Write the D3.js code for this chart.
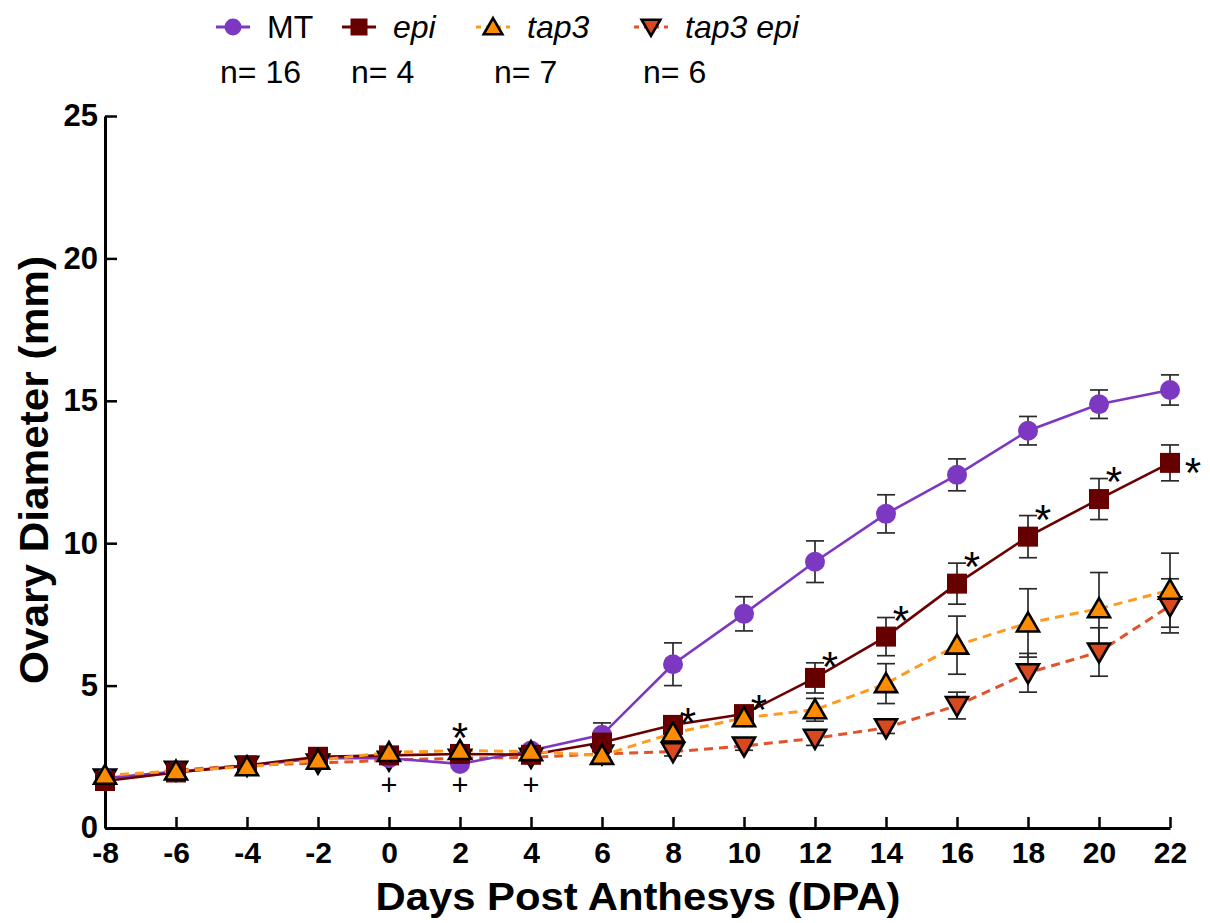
<!DOCTYPE html>
<html lang="en">
<head>
<meta charset="utf-8">
<title>Ovary Diameter</title>
<script src="https://d3js.org/d3.v7.min.js"></script>
<style>
    body { margin: 0; background: #fff; }
    svg { display: block; font-family: "Liberation Sans", Arial, sans-serif; }
    .axis path, .axis line { stroke: #000; }
    .axis path { stroke-width: 3px; }
    .axis line { stroke-width: 2.5px; }
    .axis text { font-weight: bold; fill: #000; }
</style>
</head>
<body>
<div id="chart"></div>
<script>
    // days post anthesis
    var days = [-8, -6, -4, -2, 0, 2, 4, 6, 8, 10, 12, 14, 16, 18, 20, 22];

    // mean ovary diameter (mm) and SEM per genotype
    var mtMean = [1.75, 1.98, 2.18, 2.45, 2.45, 2.25, 2.72, 3.27, 5.75, 7.52, 9.35, 11.03, 12.4, 13.95, 14.88, 15.38];
    var mtSem = [0.08, 0.08, 0.08, 0.1, 0.1, 0.1, 0.12, 0.42, 0.75, 0.6, 0.73, 0.67, 0.56, 0.5, 0.5, 0.53];

    var epiMean = [1.65, 1.95, 2.2, 2.5, 2.55, 2.6, 2.57, 3.0, 3.62, 4.0, 5.27, 6.72, 8.58, 10.23, 11.55, 12.82];
    var epiSem = [0.08, 0.08, 0.08, 0.1, 0.1, 0.1, 0.1, 0.15, 0.2, 0.27, 0.53, 0.67, 0.72, 0.74, 0.72, 0.63];

    var tap3Mean = [1.85, 2.0, 2.15, 2.38, 2.65, 2.72, 2.68, 2.55, 3.33, 3.87, 4.15, 5.07, 6.42, 7.2, 7.7, 8.35];
    var tap3Sem = [0.08, 0.08, 0.08, 0.1, 0.1, 0.1, 0.1, 0.15, 0.2, 0.3, 0.4, 0.7, 1.02, 1.2, 1.27, 1.3];

    var tap3epiMean = [1.75, 2.03, 2.2, 2.28, 2.38, 2.45, 2.48, 2.6, 2.68, 2.88, 3.15, 3.52, 4.3, 5.45, 6.18, 7.8];
    var tap3epiSem = [0.08, 0.08, 0.08, 0.1, 0.1, 0.1, 0.1, 0.12, 0.15, 0.15, 0.25, 0.2, 0.47, 0.68, 0.85, 0.95];

    // significance marks
    var starDays = [8, 10, 12, 14, 16, 18, 20, 22];   // epi vs MT
    var topStarDays = [2];
    var plusDays = [0, 2, 4];

    var xTicks = d3.range(-8, 23, 2);
    var yTicks = [0, 5, 10, 15, 20, 25];

    var series = [
        { key: "tap3 epi", n: 6, mean: tap3epiMean, sem: tap3epiSem, line: "#e0532b", fill: "#d9481f", dash: "9,6", shape: "down", italic: true },
        { key: "MT", n: 16, mean: mtMean, sem: mtSem, line: "#7d38c2", fill: "#7d38c2", dash: null, shape: "circle", italic: false },
        { key: "epi", n: 4, mean: epiMean, sem: epiSem, line: "#6b0000", fill: "#660000", dash: null, shape: "square", italic: true },
        { key: "tap3", n: 7, mean: tap3Mean, sem: tap3Sem, line: "#ff9a1f", fill: "#ff8c00", dash: "9,6", shape: "up", italic: true }
    ];
    var legendOrder = ["MT", "epi", "tap3", "tap3 epi"];

    var WIDTH = 1210, HEIGHT = 923;
    var svg = d3.select("#chart").append("svg")
        .attr("width", WIDTH)
        .attr("height", HEIGHT);

    var x = d3.scaleLinear().domain([-8, 22]).range([105, 1170]);
    var y = d3.scaleLinear().domain([0, 25]).range([828, 116]);

    function symbolPath(shape, s) {
        s = s || 1;
        if (shape === "circle") {
            var r = 10 * s;
            return "M" + r + ",0A" + r + "," + r + " 0 1,1 " + (-r) + ",0A" + r + "," + r + " 0 1,1 " + r + ",0Z";
        }
        if (shape === "square") {
            var h = 10 * s;
            return "M" + (-h) + "," + (-h) + "H" + h + "V" + h + "H" + (-h) + "Z";
        }
        if (shape === "up") return "M0," + (-10.5 * s) + "L" + (11 * s) + "," + (8.5 * s) + "L" + (-11 * s) + "," + (8.5 * s) + "Z";
        return "M0," + (10.5 * s) + "L" + (11 * s) + "," + (-8.5 * s) + "L" + (-11 * s) + "," + (-8.5 * s) + "Z";
    }

    function drawMarker(g, d, s) {
        var p = g.append("path")
            .attr("d", symbolPath(d.shape, s))
            .attr("fill", d.fill);
        if (d.shape === "up" || d.shape === "down") {
            p.attr("stroke", "#000").attr("stroke-width", 2.6).attr("stroke-linejoin", "miter");
        }
        return p;
    }

    // axes (plain hyphen for negatives, like the original)
    var yAxis = d3.axisLeft(y).tickValues(yTicks).tickSizeInner(-12).tickSizeOuter(0).tickPadding(7);
    var xAxis = d3.axisBottom(x).tickValues(xTicks).tickSizeInner(-11).tickSizeOuter(0).tickPadding(14)
        .tickFormat(function (d) { return String(d); });

    svg.append("g").attr("class", "axis")
        .attr("transform", "translate(105,0)")
        .call(yAxis)
        .selectAll("text").style("font-size", "31px");

    svg.append("g").attr("class", "axis")
        .attr("transform", "translate(0,828)")
        .call(xAxis)
        .selectAll("text").style("font-size", "30px");

    svg.append("text")
        .attr("transform", "translate(48,470) rotate(-90)")
        .attr("text-anchor", "middle")
        .attr("textLength", 428)
        .attr("lengthAdjust", "spacingAndGlyphs")
        .style("font-size", "40px").style("font-weight", "bold")
        .text("Ovary Diameter (mm)");

    svg.append("text")
        .attr("x", 638).attr("y", 910)
        .attr("text-anchor", "middle")
        .attr("textLength", 525)
        .attr("lengthAdjust", "spacingAndGlyphs")
        .style("font-size", "39px").style("font-weight", "bold")
        .text("Days Post Anthesys (DPA)");

    // lines
    series.forEach(function (s) {
        var line = d3.line()
            .x(function (d, i) { return x(days[i]); })
            .y(function (d) { return y(d); });
        svg.append("path")
            .attr("d", line(s.mean))
            .attr("fill", "none")
            .attr("stroke", s.line)
            .attr("stroke-width", s.dash ? 3 : 2.6)
            .attr("stroke-dasharray", s.dash);
    });

    // error bars
    series.forEach(function (s) {
        var g = svg.append("g").attr("stroke", "#2a2a2a").attr("stroke-width", 1.7);
        s.mean.forEach(function (m, i) {
            var cx = x(days[i]), top = y(m + s.sem[i]), bot = y(m - s.sem[i]);
            g.append("line").attr("x1", cx).attr("x2", cx).attr("y1", top).attr("y2", bot);
            g.append("line").attr("x1", cx - 9).attr("x2", cx + 9).attr("y1", top).attr("y2", top);
            g.append("line").attr("x1", cx - 9).attr("x2", cx + 9).attr("y1", bot).attr("y2", bot);
        });
    });

    // markers
    series.forEach(function (s) {
        s.mean.forEach(function (m, i) {
            var g = svg.append("g").attr("transform", "translate(" + x(days[i]) + "," + y(m) + ")");
            drawMarker(g, s, 1);
        });
    });

    // significance: epi vs MT
    var STAR = 42;
    starDays.forEach(function (d, k) {
        var i = days.indexOf(d);
        var last = k === starDays.length - 1;
        var cx = x(d) + (last ? 23 : 15);
        var cy = last ? y(epiMean[i]) : y(epiMean[i] + epiSem[i]) - 6;
        svg.append("text")
            .attr("x", cx).attr("y", cy + STAR * 0.57)
            .attr("text-anchor", "middle")
            .style("font-size", STAR + "px")
            .text("*");
    });

    topStarDays.forEach(function (d) {
        var i = days.indexOf(d);
        var top = d3.max(series, function (s) { return s.mean[i]; });
        svg.append("text")
            .attr("x", x(d)).attr("y", y(top) - 22 + STAR * 0.57)
            .attr("text-anchor", "middle")
            .style("font-size", STAR + "px")
            .text("*");
    });

    // plus signs share one row under the lowest point of those days
    var plusLow = d3.min(plusDays, function (d) {
        var i = days.indexOf(d);
        return d3.min(series, function (s) { return s.mean[i]; });
    });
    plusDays.forEach(function (d) {
        svg.append("text")
            .attr("x", x(d)).attr("y", y(plusLow) + 21 + 10)
            .attr("text-anchor", "middle")
            .style("font-size", "29px")
            .text("+");
    });

    // legend
    var legendX = [233, 359, 493, 651];
    var nX = [220, 351, 494, 643];
    legendOrder.forEach(function (key, k) {
        var s = series.find(function (e) { return e.key === key; });
        var g = svg.append("g").attr("transform", "translate(" + legendX[k] + ",27)");
        g.append("line")
            .attr("x1", -17).attr("x2", 17)
            .attr("stroke", s.line)
            .attr("stroke-width", 3)
            .attr("stroke-dasharray", s.dash ? "5,5" : null);
        drawMarker(g, s, 0.85);
        g.append("text")
            .attr("x", 34).attr("y", 11)
            .style("font-size", "32px")
            .style("font-style", s.italic ? "italic" : "normal")
            .text(key);
        svg.append("text")
            .attr("x", nX[k]).attr("y", 83)
            .style("font-size", "32px")
            .text("n= " + s.n);
    });
</script>
</body>
</html>
